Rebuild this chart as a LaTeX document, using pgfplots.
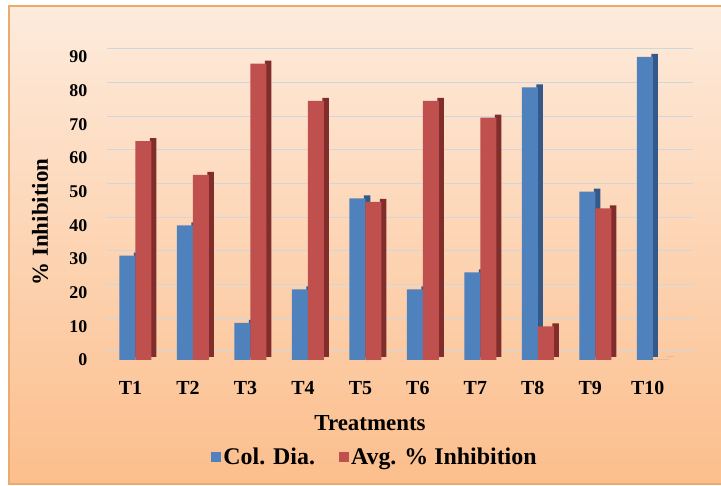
\documentclass[border=0pt]{standalone}
\usepackage{pgfplots}
\usepackage{pgfplotstable}
\pgfplotsset{compat=1.18}
\usepackage{fontspec}
\setmainfont{Liberation Serif}
\definecolor{bfront}{RGB}{79,129,189}
\definecolor{bside}{RGB}{52,88,135}
\definecolor{rfront}{RGB}{192,80,77}
\definecolor{rside}{RGB}{128,45,43}
\definecolor{bgtop}{RGB}{253,235,220}
\definecolor{bgbot}{RGB}{252,190,140}
\definecolor{bord}{RGB}{235,170,110}
\definecolor{gridc}{RGB}{208,214,222}
\pgfplotstableread{
x blue red
1 31 65
2 40 55
3 11 88
4 21 77
5 48 47
6 21 77
7 26 72
8 81 10
9 50 45
10 90 0
}\data
\begin{document}
\begin{tikzpicture}[x=1bp,y=1bp]
\useasboundingbox (0,0) rectangle (721,486);
\begin{scope}
\clip (0,0) rectangle (721,486);
\shade[top color=bgtop, bottom color=bgbot] (9,2) rectangle (730,480);
\draw[bord, line width=1.5bp] (9,2) rectangle (730,480);
\end{scope}
\begin{axis}[
  at={(106.75bp,126bp)}, anchor=south west,
  scale only axis, width=586.25bp, height=303bp,
  xmin=0.5, xmax=10.7, ymin=0, ymax=90,
  xtick={1,...,10}, xticklabels={T1,T2,T3,T4,T5,T6,T7,T8,T9,T10},
  ytick={0,10,...,90},
  axis line style={draw=none}, major tick length=0pt,
  ymajorgrids, major grid style={draw=gridc, line width=1bp, yshift=8bp},
  /pgf/number format/assume math mode=true,
  yticklabel style={font=\bfseries\fontsize{18}{18}\selectfont, anchor=east, xshift=-16bp},
  xticklabel style={font=\bfseries\fontsize{20}{20}\selectfont, xshift=-5bp, yshift=-18bp},
  clip=false,
  legend style={at={(0.4576,-0.32)}, anchor=center, draw=none, fill=none,
    font=\bfseries\fontsize{24}{24}\selectfont, legend columns=2,
    /tikz/every even column/.append style={column sep=22bp}},
  legend image code/.code={\fill[#1] (0bp,-5bp) rectangle (10bp,5bp);},
]
\addplot[ybar, bar width=6.5bp, bar shift=1.75bp, fill=bside, draw=none, yshift=3bp, forget plot] table[x=x,y=blue]{\data};
\addplot[ybar, bar width=16bp, bar shift=-8bp, fill=bfront, draw=none] table[x=x,y=blue]{\data};
\addlegendentry{Col. Dia.}
\addplot[ybar, bar width=6.5bp, bar shift=17.75bp, fill=rside, draw=none, yshift=3bp, forget plot] table[x=x,y=red]{\data};
\addplot[ybar, bar width=16bp, bar shift=8bp, fill=rfront, draw=none] table[x=x,y=red]{\data};
\addlegendentry{Avg. \% Inhibition}
\end{axis}
\node[rotate=90, font=\bfseries\fontsize{23}{23}\selectfont] at (40,264) {\% Inhibition};
\node[font=\bfseries\fontsize{23}{23}\selectfont] at (370,63) {Treatments};
\end{tikzpicture}
\end{document}
